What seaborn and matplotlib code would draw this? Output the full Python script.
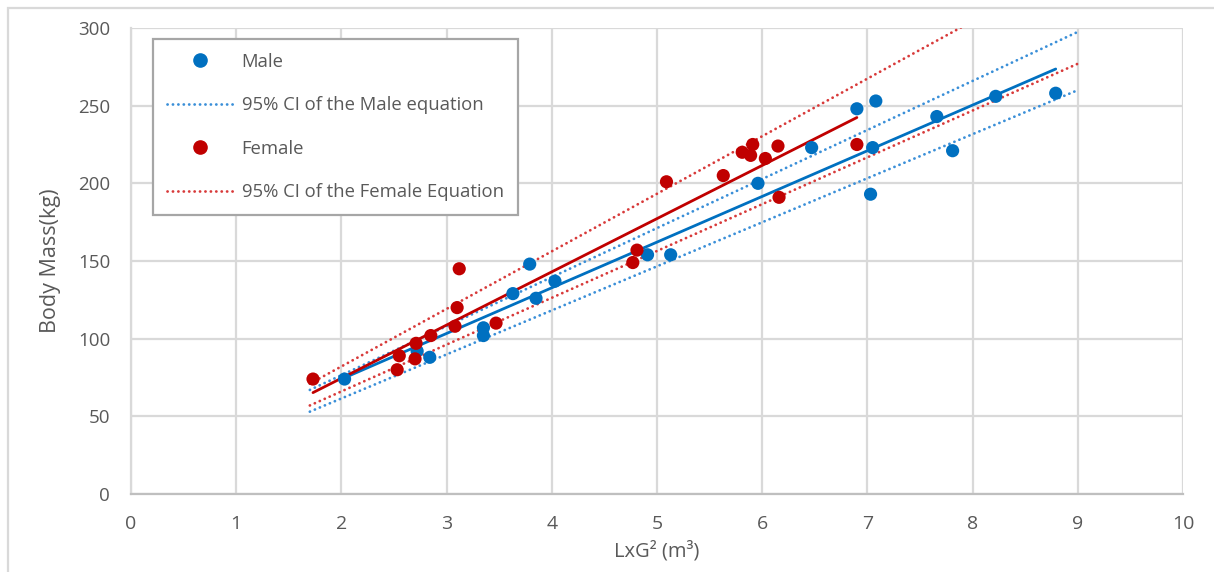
import numpy as np
import pandas as pd
import matplotlib
matplotlib.use("Agg")
import matplotlib.pyplot as plt
from matplotlib.lines import Line2D
from matplotlib.patches import Rectangle
import seaborn as sns

# Measurements: LxG^2 (m^3) and body mass (kg)
male_x = [2.03, 2.72, 2.84, 3.35, 3.35, 3.63, 3.79, 3.85, 4.03, 4.91, 5.13,
          5.96, 6.47, 6.90, 7.08, 7.05, 7.03, 7.66, 7.81, 8.22, 8.79]
male_y = [74, 92, 88, 107, 102, 129, 148, 126, 137, 154, 154,
          200, 223, 248, 253, 223, 193, 243, 221, 256, 258]
female_x = [1.73, 2.53, 2.55, 2.70, 2.71, 2.85, 3.08, 3.10, 3.12, 3.47,
            4.81, 4.77, 5.09, 5.63, 5.81, 5.89, 5.91, 6.03, 6.15, 6.16, 6.90]
female_y = [74, 80, 89, 87, 97, 102, 108, 120, 145, 110,
            157, 149, 201, 205, 220, 218, 225, 216, 224, 191, 225]

# 95% confidence bounds of each equation, evaluated at the ends of the range
ci_x = [1.7, 9.0]
male_ci_low = [53, 260]
male_ci_high = [67, 297.5]
female_ci_low = [57, 277]
female_ci_high = [71, 341.5]

x_ticks = list(range(0, 11))
y_ticks = list(range(0, 301, 50))

BLUE = "#0070c0"
RED = "#c00000"
BLUE_CI = "#3a8fd8"
RED_CI = "#d83a3a"
TEXT = "#595959"
GRID = "#d9d9d9"

sns.set_theme(style="whitegrid")
plt.rcParams["font.family"] = ["Open Sans", "DejaVu Sans"]

fig = plt.figure(figsize=(12.14, 5.72), dpi=100)
ax = fig.add_axes([131 / 1214, 1 - 494 / 572, (1183 - 131) / 1214, (494 - 28) / 572])

df = pd.concat([
    pd.DataFrame({"x": male_x, "y": male_y, "sex": "Male"}),
    pd.DataFrame({"x": female_x, "y": female_y, "sex": "Female"}),
], ignore_index=True)

dot = (0, (0.05, 1.9))

# confidence bounds
for lo, hi, col in [(male_ci_low, male_ci_high, BLUE_CI),
                    (female_ci_low, female_ci_high, RED_CI)]:
    for vals in (lo, hi):
        sns.lineplot(x=ci_x, y=vals, ax=ax, color=col, linewidth=2.0,
                     linestyle=dot, dash_capstyle="round", zorder=2)

# fitted equations over each group's data range
for xs, ys, col in [(male_x, male_y, BLUE), (female_x, female_y, RED)]:
    b, a = np.polyfit(xs, ys, 1)
    xr = np.array([min(xs), max(xs)])
    sns.lineplot(x=xr, y=a + b * xr, ax=ax, color=col, linewidth=2.0, zorder=3)

sns.scatterplot(data=df, x="x", y="y", hue="sex",
                palette={"Male": BLUE, "Female": RED},
                s=90, edgecolor="none", linewidth=0, ax=ax, legend=False, zorder=4)

ax.set_xlim(0, 10)
ax.set_ylim(0, 300)
ax.set_xticks(x_ticks)
ax.set_yticks(y_ticks)
ax.grid(True, color=GRID, linewidth=1.6)
ax.set_axisbelow(True)
for side in ("top", "right"):
    ax.spines[side].set_visible(False)
ax.spines["left"].set_color(GRID)
ax.spines["left"].set_linewidth(1.6)
ax.spines["bottom"].set_color("#bfbfbf")
ax.spines["bottom"].set_linewidth(1.6)
ax.tick_params(axis="both", colors=TEXT, length=0)
ax.tick_params(axis="x", pad=15, labelsize=14)
ax.tick_params(axis="y", pad=15, labelsize=13.5)
ax.set_xlabel("LxG² (m³)", color=TEXT, fontsize=14.5, labelpad=6)
ax.set_ylabel("Body Mass(kg)", color=TEXT, fontsize=15.5, labelpad=12)

handles = [
    Line2D([], [], marker="o", linestyle="none", color=BLUE, markersize=9.5),
    Line2D([], [], color=BLUE_CI, linewidth=2.0, linestyle=dot, dash_capstyle="round"),
    Line2D([], [], marker="o", linestyle="none", color=RED, markersize=9.5),
    Line2D([], [], color=RED_CI, linewidth=2.0, linestyle=dot, dash_capstyle="round"),
]
labels = ["Male", "95% CI of the Male equation", "Female",
          "95% CI of the Female Equation"]
leg = ax.legend(handles, labels, loc="upper left",
                bbox_to_anchor=((153 - 131) / 1052, (494 - 39) / 466),
                frameon=True, fancybox=False, edgecolor="#a6a6a6",
                framealpha=1, fontsize=13.3, labelspacing=1.38,
                handlelength=3.6, handletextpad=0.45, borderpad=0.75,
                labelcolor=TEXT, borderaxespad=0)
leg.get_frame().set_linewidth(1.6)

# outer chart border
fig.patches.append(Rectangle((8 / 1214, -0.1), 1.2, 1 - 8 / 572 + 0.1,
                             transform=fig.transFigure, fill=False,
                             edgecolor=GRID, linewidth=1.6))

fig.savefig("out.png", dpi=100, facecolor="white")
